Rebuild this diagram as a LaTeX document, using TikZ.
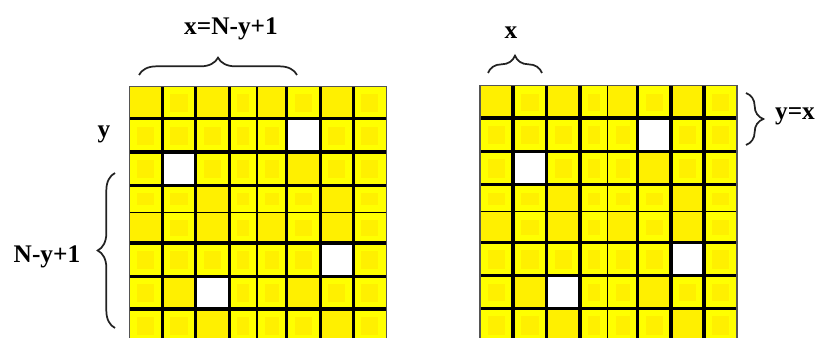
\documentclass[tikz,border=0pt]{standalone}
\usepackage{fontspec}
\setmainfont{Liberation Serif}
\usepackage{xcolor}
\definecolor{cYel}{HTML}{FFFF00}
\definecolor{cYelDim}{HTML}{FFF000}
\definecolor{cRim}{HTML}{555555}
\definecolor{cBrace}{HTML}{222222}
\usepackage{tikz}
\usetikzlibrary{decorations.pathreplacing}
\tikzset{
  cell-line/.style={draw=black,line width=2.5pt},
  cell-line-thin/.style={draw=black,line width=1.1pt},
  cell-rim/.style={draw=cRim,line width=0.9pt},
  brace-mark/.style={decorate,decoration={brace,amplitude=13pt},
    draw=cBrace,line width=1.3pt},
  lbl/.style={font=\bfseries\fontsize{19}{22}\selectfont,inner sep=0pt},
}
% d = darker cell, i = bright cell with darker core, w = empty cell
\newcommand{\drawmat}[2]{%
  \begin{scope}[shift={(#1,#2)}]
    \foreach \rowcells [count=\j from 0] in {%
      {d,i,d,i,d,i,d,i},{i,i,i,i,i,w,i,i},{i,w,i,i,i,d,i,i},%
      {i,i,d,i,i,i,d,i},{d,i,d,i,d,i,d,i},{i,i,i,i,i,i,w,i},%
      {i,d,w,i,i,d,i,i},{i,i,d,i,i,i,d,i}} {
      \pgfmathsetmacro{\ya}{{0,32.3,65.5,99,126,156.5,190,222.5,256}[\j]}
      \pgfmathsetmacro{\yb}{{0,32.3,65.5,99,126,156.5,190,222.5,256}[\j+1]}
      \foreach \t [count=\i from 0] in \rowcells {
        \pgfmathsetmacro{\xa}{{0,33,66.5,100,127.5,157.5,191,224,257}[\i]}
        \pgfmathsetmacro{\xb}{{0,33,66.5,100,127.5,157.5,191,224,257}[\i+1]}
        \if d\t
          \fill[cYelDim] (\xa,\ya) rectangle (\xb,\yb);
        \else\if w\t
          \fill[white] (\xa,\ya) rectangle (\xb,\yb);
        \else
          \fill[cYel] (\xa,\ya) rectangle (\xb,\yb);
          \fill[cYelDim] (\xa+8,\ya+8) rectangle (\xb-8,\yb-7);
        \fi\fi
      }
    }
    % grid lines
    \foreach \gx in {33,66.5,100,157.5,191,224}
      \draw[cell-line] (\gx,0) -- (\gx,256);
    \foreach \gy in {32.3,65.5,99,156.5,190,222.5}
      \draw[cell-line] (0,\gy) -- (257,\gy);
    \draw[cell-line-thin] (127.5,0) -- (127.5,256);
    \draw[cell-line-thin] (0,126) -- (257,126);
    \draw[cell-rim] (0,256) -- (0,0) -- (257,0) -- (257,256);
  \end{scope}}

\begin{document}
\begin{tikzpicture}[x=0.75pt,y=-0.75pt]
  \useasboundingbox (0,0) rectangle (818,338);
  \clip (0,0) rectangle (818,338);
  \drawmat{129.3}{86.5}
  \drawmat{480}{85.7}

  % labels
  \node[lbl] (lab-xy) at (231,29) {x=N-y+1};
  \node[lbl] (lab-y)  at (104,134) {y};
  \node[lbl] (lab-ny) at (47,257) {N-y+1};
  \node[lbl] (lab-x)  at (511,33) {x};
  \node[lbl] (lab-yx) at (795,116) {y=x};

  % braces
  \coordinate (br-a1) at (139,75);  \coordinate (br-a2) at (297,75);
  \coordinate (br-b1) at (115,328); \coordinate (br-b2) at (115,173);
  \coordinate (br-c1) at (488,73);  \coordinate (br-c2) at (542,73);
  \coordinate (br-d1) at (746,93);  \coordinate (br-d2) at (746,145);
  \draw[brace-mark] (br-a1) -- (br-a2);
  \draw[brace-mark] (br-b1) -- (br-b2);
  \draw[brace-mark] (br-c1) -- (br-c2);
  \draw[brace-mark] (br-d1) -- (br-d2);
\end{tikzpicture}
\end{document}
